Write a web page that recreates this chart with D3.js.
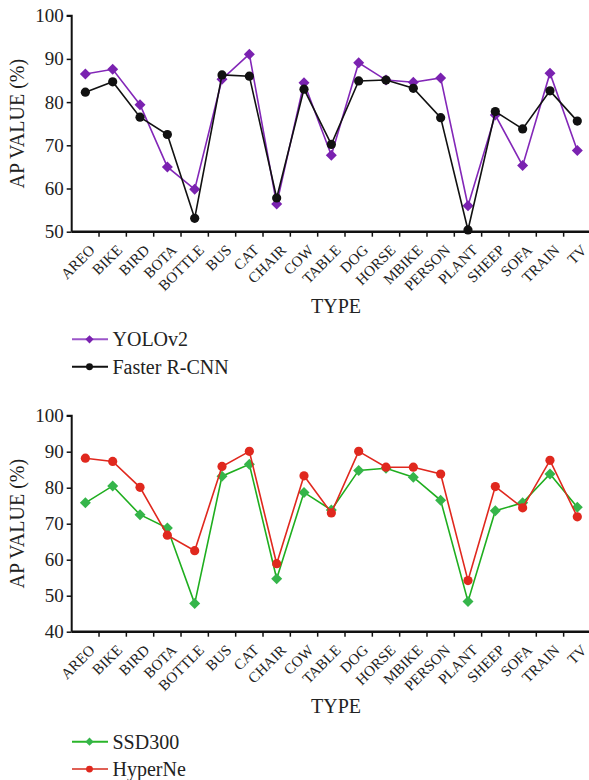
<!DOCTYPE html>
<html><head><meta charset="utf-8">
<script src="https://cdn.jsdelivr.net/npm/d3@7"></script>
<style>body{margin:0;background:#fff}svg{display:block}</style>
</head><body>
<script>
const categories = ["AREO","BIKE","BIRD","BOTA","BOTTLE","BUS","CAT","CHAIR","COW","TABLE","DOG","HORSE","MBIKE","PERSON","PLANT","SHEEP","SOFA","TRAIN","TV"];
const yolov2 = [86.5,87.6,79.4,65.0,59.8,85.3,91.1,56.4,84.5,67.7,89.1,85.1,84.6,85.6,56.0,77.0,65.3,86.7,68.8];
const fasterRCNN = [82.3,84.7,76.5,72.5,53.1,86.3,86.0,57.8,83.0,70.2,84.9,85.1,83.2,76.4,50.4,77.8,73.8,82.6,75.6];
const ssd300 = [75.8,80.5,72.5,68.8,47.8,83.2,86.5,54.7,78.7,73.8,84.8,85.4,82.9,76.5,48.4,73.6,75.8,83.8,74.6];
const hyperNe = [88.2,87.3,80.1,66.8,62.5,85.9,90.1,58.9,83.3,73.0,90.1,85.7,85.7,83.8,54.2,80.3,74.4,87.6,71.9];
const topTicks = [50,60,70,80,90,100];
const bottomTicks = [40,50,60,70,80,90,100];

const W = 589, H = 780;
const font = "'Liberation Serif','Times New Roman',serif";
const svg = d3.select("body").append("svg").attr("width", W).attr("height", H);

const x = d3.scaleBand().domain(categories).range([71.7, 71.7 + 19 * 27.33]).padding(0);

function panel(top, domain, ticks, seriesList, legendY) {
  const y = d3.scaleLinear().domain(domain).range([top + 216, top]);
  const g = svg.append("g");
  const ya = g.append("g").attr("transform", `translate(${x.range()[0]},0)`)
    .call(d3.axisLeft(y).tickValues(ticks).tickSize(5).tickPadding(3).tickFormat(d3.format("d")));
  ya.attr("font-family", font);
  ya.select(".domain").attr("stroke", "#111").attr("stroke-width", 2).attr("d", `M-5,${y(domain[1])}H0V${y(domain[0])}`);
  ya.selectAll(".tick line").attr("stroke", "#111").attr("stroke-width", 1.5);
  ya.selectAll(".tick text").attr("font-family", font).attr("font-size", 19).attr("fill", "#222");
  const xa = g.append("g").attr("transform", `translate(0,${y(domain[0])})`);
  xa.append("line").attr("x1", x.range()[0]).attr("x2", x.range()[1]).attr("stroke", "#111").attr("stroke-width", 2.5);
  const bounds = categories.map((c) => x(c)).slice(1).concat([x.range()[1]]);
  xa.selectAll("line.tk").data(bounds).enter().append("line").attr("class", "tk")
    .attr("x1", d => d).attr("x2", d => d).attr("y1", 0).attr("y2", 5)
    .attr("stroke", "#111").attr("stroke-width", 1.5);
  xa.selectAll("text").data(categories).enter().append("text")
    .attr("transform", d => `translate(${x(d) + x.bandwidth() / 2 + 3},${12}) rotate(-45)`)
    .attr("text-anchor", "end").attr("dy", "0.7em")
    .attr("font-family", font).attr("font-size", 15).attr("fill", "#222").text(d => d);
  g.append("text").attr("transform", `translate(24,${(y(domain[0]) + y(domain[1])) / 2}) rotate(-90)`)
    .attr("text-anchor", "middle").attr("font-family", font).attr("font-size", 20).attr("fill", "#222").text("AP VALUE (%)");
  g.append("text").attr("x", 336).attr("y", y(domain[0]) + 81).attr("text-anchor", "middle")
    .attr("font-family", font).attr("font-size", 20).attr("fill", "#222").text("TYPE");

  const line = d3.line().x((d, i) => x(categories[i]) + x.bandwidth() / 2).y(d => y(d));
  seriesList.forEach(s => {
    g.append("path").datum(s.values).attr("d", line).attr("fill", "none").attr("stroke", s.line).attr("stroke-width", 1.6);
    s.values.forEach((v, i) => {
      const cx = x(categories[i]) + x.bandwidth() / 2, cy = y(v);
      drawMarker(g, s.shape, cx, cy, s.fill, 1);
    });
  });
  seriesList.forEach((s, k) => {
    const ly = legendY + k * 27.4;
    g.append("line").attr("x1", 72).attr("x2", 108).attr("y1", ly).attr("y2", ly).attr("stroke", s.legendLine).attr("stroke-width", 2);
    drawMarker(g, s.shape, 89.5, ly, s.fill, 0.75);
    g.append("text").attr("x", 112.5).attr("y", ly).attr("dy", "0.35em").attr("font-family", font)
      .attr("font-size", 20).attr("fill", "#222").text(s.name);
  });
}

function drawMarker(g, shape, cx, cy, fill, scale) {
  if (shape === "diamond") {
    const r = 5.5 * scale;
    g.append("path").attr("d", `M${cx},${cy - r}L${cx + r},${cy}L${cx},${cy + r}L${cx - r},${cy}Z`).attr("fill", fill);
  } else {
    g.append("circle").attr("cx", cx).attr("cy", cy).attr("r", 4.6 * scale).attr("fill", fill);
  }
}

panel(15.7, [50, 100], topTicks, [
  {name: "YOLOv2", values: yolov2, line: "#8327b8", fill: "#7a22b0", legendLine: "#9b55c9", shape: "diamond"},
  {name: "Faster R-CNN", values: fasterRCNN, line: "#111", fill: "#111", legendLine: "#111", shape: "circle"}
], 339.3);

panel(415.7, [40, 100], bottomTicks, [
  {name: "SSD300", values: ssd300, line: "#1fae1f", fill: "#35b54a", legendLine: "#2ab52a", shape: "diamond"},
  {name: "HyperNe", values: hyperNe, line: "#e0281e", fill: "#e0281e", legendLine: "#e06055", shape: "circle"}
], 741.7);
</script>
</body></html>
